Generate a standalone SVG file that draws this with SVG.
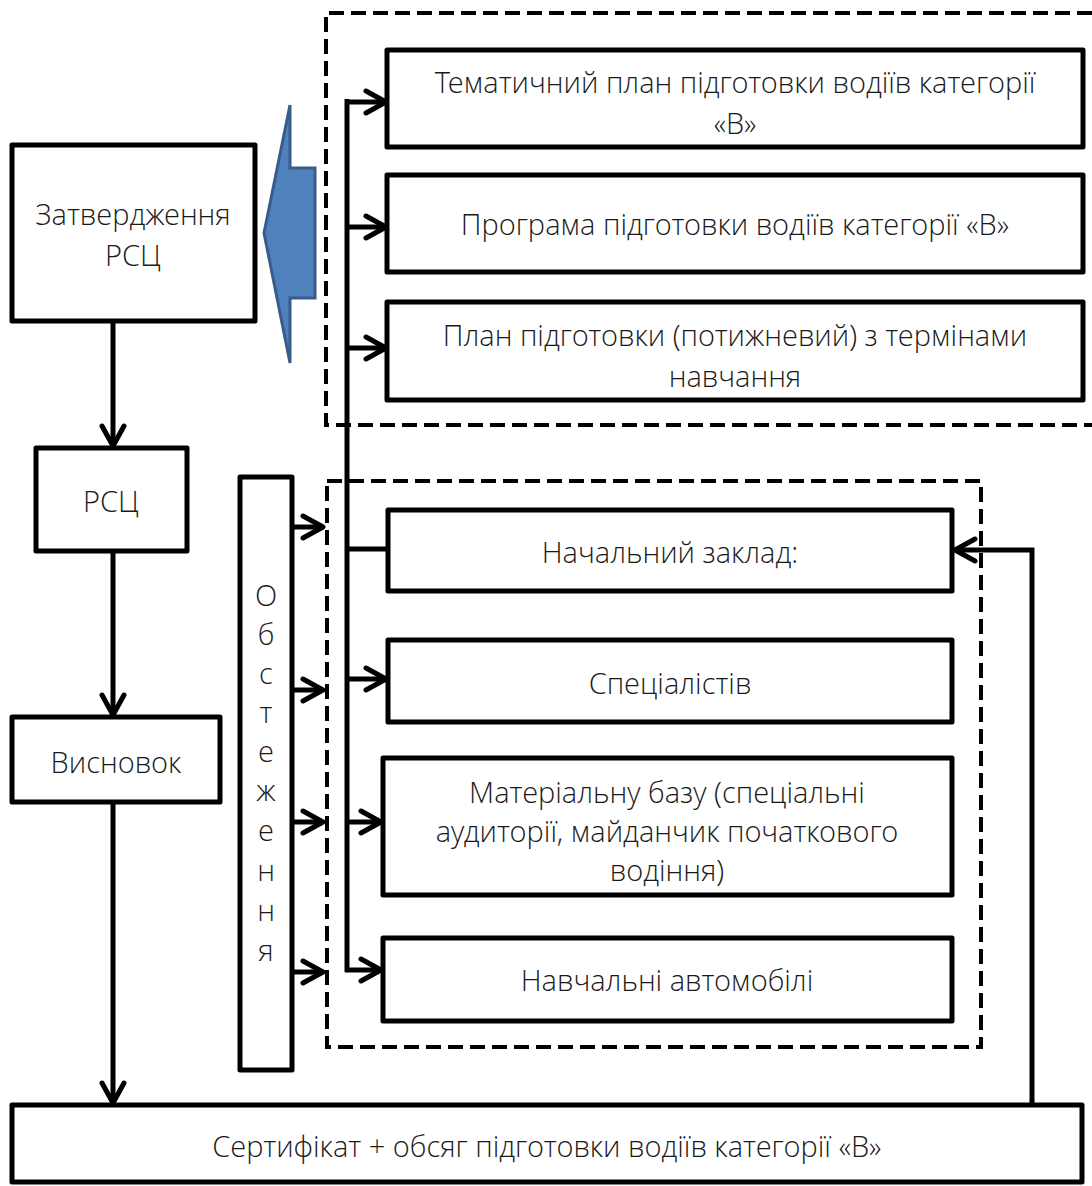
<svg xmlns="http://www.w3.org/2000/svg" width="1092" height="1186" viewBox="0 0 1092 1186">
<defs>
<style>
.box{fill:#fff;stroke:#000;stroke-width:5;stroke-linejoin:round}
.dash{fill:none;stroke:#000;stroke-width:4;stroke-dasharray:15 7}
.ln{fill:none;stroke:#000;stroke-width:5}
.t{font-family:"Open Sans Light","Open Sans","Noto Sans","DejaVu Sans",sans-serif;font-weight:300;font-size:29px;fill:#1a1a1a;text-anchor:middle}
</style>
<marker id="ah" markerUnits="userSpaceOnUse" viewBox="0 0 26 28" refX="23" refY="14" markerWidth="26" markerHeight="28" orient="auto">
<path d="M3,3 L23,14 L3,25" fill="none" stroke="#000" stroke-width="5" stroke-linecap="round" stroke-linejoin="round"/>
</marker>
</defs>
<rect width="1092" height="1186" fill="#fff"/>
<path class="dash" d="M1092,13 H326 V425 H1092"/>
<rect class="dash" x="327" y="481" width="654" height="566"/>
<g id="blue-arrow">
<polygon points="290,105 290,168 315,168 315,298 290,298 290,363 264,233" fill="#4f81bd" stroke="#385d8a" stroke-width="3"/>
</g>
<g id="connectors">
<path class="ln" d="M347,99 V972"/>
<path class="ln" d="M345,102 H386" marker-end="url(#ah)"/>
<path class="ln" d="M347,227 H386" marker-end="url(#ah)"/>
<path class="ln" d="M347,348 H386" marker-end="url(#ah)"/>
<path class="ln" d="M347,549 H388"/>
<path class="ln" d="M347,679 H386" marker-end="url(#ah)"/>
<path class="ln" d="M347,822 H381" marker-end="url(#ah)"/>
<path class="ln" d="M345,970 H381" marker-end="url(#ah)"/>
<path class="ln" d="M292,527 H323" marker-end="url(#ah)"/>
<path class="ln" d="M292,690 H323" marker-end="url(#ah)"/>
<path class="ln" d="M292,822 H323" marker-end="url(#ah)"/>
<path class="ln" d="M292,972 H323" marker-end="url(#ah)"/>
<path class="ln" d="M113,322 V446" marker-end="url(#ah)"/>
<path class="ln" d="M113,551 V715" marker-end="url(#ah)"/>
<path class="ln" d="M113,802 V1103" marker-end="url(#ah)"/>
<path class="ln" d="M1032,1105 V550 H955" marker-end="url(#ah)"/>
</g>
<g id="n-tematychnyi"><rect class="box" x="387" y="50" width="696" height="97"/><text class="t" x="735" y="93">Тематичний план підготовки водіїв категорії</text><text class="t" x="735" y="134">«В»</text></g>
<g id="n-prohrama"><rect class="box" x="387" y="175" width="696" height="97"/><text class="t" x="735" y="235">Програма підготовки водіїв категорії «В»</text></g>
<g id="n-plan"><rect class="box" x="387" y="302" width="696" height="98"/><text class="t" x="735" y="346">План підготовки (потижневий) з термінами</text><text class="t" x="735" y="387">навчання</text></g>
<g id="n-zatverdzhennia"><rect class="box" x="12" y="145" width="243" height="176"/><text class="t" x="133" y="225">Затвердження</text><text class="t" x="133" y="266">РСЦ</text></g>
<g id="n-rsts"><rect class="box" x="36" y="448" width="151" height="103"/><text class="t" x="111" y="512">РСЦ</text></g>
<g id="n-vysnovok"><rect class="box" x="12" y="717" width="208" height="85"/><text class="t" x="116" y="773">Висновок</text></g>
<g id="n-obstezhennia"><rect class="box" x="240" y="477" width="52" height="593"/>
<text class="t" x="266" y="606">О</text><text class="t" x="266" y="645">б</text><text class="t" x="266" y="684">с</text><text class="t" x="266" y="723">т</text><text class="t" x="266" y="762">е</text><text class="t" x="266" y="801">ж</text><text class="t" x="266" y="841">е</text><text class="t" x="266" y="881">н</text><text class="t" x="266" y="921">н</text><text class="t" x="266" y="961">я</text></g>
<g id="n-nachalnyi"><rect class="box" x="388" y="510" width="564" height="81"/><text class="t" x="670" y="563">Начальний заклад:</text></g>
<g id="n-spetsialistiv"><rect class="box" x="388" y="640" width="564" height="82"/><text class="t" x="670" y="694">Спеціалістів</text></g>
<g id="n-materialnu"><rect class="box" x="383" y="758" width="569" height="137"/><text class="t" x="667" y="803">Матеріальну базу (спеціальні</text><text class="t" x="667" y="842">аудиторії, майданчик початкового</text><text class="t" x="667" y="881">водіння)</text></g>
<g id="n-avtomobili"><rect class="box" x="383" y="938" width="569" height="83"/><text class="t" x="667" y="991">Навчальні автомобілі</text></g>
<g id="n-sertyfikat"><rect class="box" x="12" y="1105" width="1070" height="77"/><text class="t" x="547" y="1157">Сертифікат + обсяг підготовки водіїв категорії «В»</text></g>
</svg>
